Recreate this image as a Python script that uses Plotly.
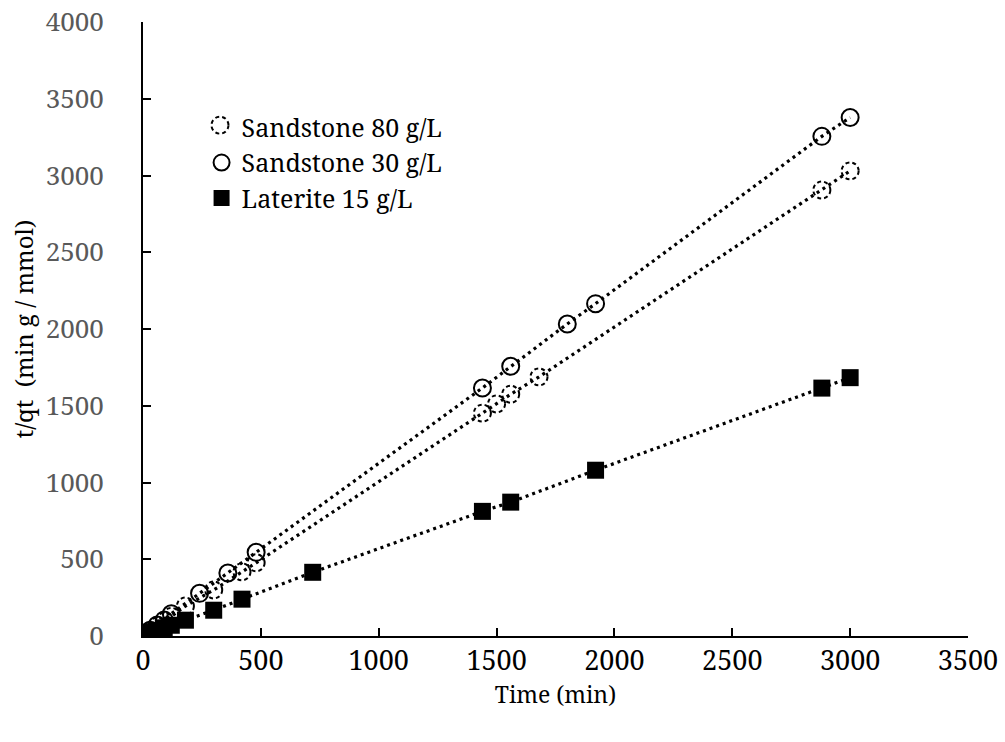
import plotly.graph_objects as go

# ---- data ----
t_s80 = [5, 10, 15, 30, 60, 90, 120, 180, 300, 420, 480, 1440, 1500, 1560, 1680, 2880, 3000]
q_s80 = [6, 12, 17, 33, 64, 95, 128, 195, 300, 418, 477, 1452, 1512, 1575, 1688, 2905, 3030]

t_s30 = [5, 10, 15, 30, 60, 90, 120, 240, 360, 480, 1440, 1560, 1800, 1920, 2880, 3000]
q_s30 = [8, 14, 20, 38, 72, 105, 145, 278, 410, 545, 1616, 1757, 2033, 2165, 3255, 3378]

t_lat = [5, 10, 15, 30, 60, 90, 120, 180, 300, 420, 720, 1440, 1560, 1920, 2880, 3000]
q_lat = [4, 7, 10, 19, 37, 53, 70, 103, 168, 240, 415, 812, 872, 1080, 1615, 1683]

names = ["Sandstone 80 g/L", "Sandstone 30 g/L", "Laterite 15 g/L"]
x_ticks = [0, 500, 1000, 1500, 2000, 2500, 3000, 3500]
y_ticks = [0, 500, 1000, 1500, 2000, 2500, 3000, 3500, 4000]

FONT = "Noto Serif"
DOT = dict(color="black", width=3.2, dash="3px,4px")

fig = go.Figure()

# dotted connecting lines
for tx, qy in [(t_s80, q_s80), (t_s30, q_s30), (t_lat, q_lat)]:
    fig.add_trace(go.Scatter(x=tx, y=qy, mode="lines", line=DOT,
                             showlegend=False, hoverinfo="skip"))

# markers
fig.add_trace(go.Scatter(x=t_s80, y=q_s80, mode="markers", name=names[0],
                         marker=dict(symbol="circle-open", size=17,
                                     color="rgba(0,0,0,0)",
                                     line=dict(color="rgba(0,0,0,0)", width=2))))
fig.add_trace(go.Scatter(x=t_s30, y=q_s30, mode="markers", name=names[1],
                         marker=dict(symbol="circle-open", size=17, color="black",
                                     line=dict(color="black", width=2))))
fig.add_trace(go.Scatter(x=t_lat, y=q_lat, mode="markers", name=names[2],
                         marker=dict(symbol="square", size=17, color="black",
                                     line=dict(color="black", width=0))))

# dashed circles for Sandstone 80 g/L (data markers + legend symbol)
R = 8.5
DASHED = dict(color="black", width=2, dash="4px,3px")
shapes = []
for tx, qy in zip(t_s80, q_s80):
    shapes.append(dict(type="circle", xref="x", yref="y",
                       xsizemode="pixel", ysizemode="pixel",
                       xanchor=tx, yanchor=qy, x0=-R, x1=R, y0=-R, y1=R,
                       line=DASHED))

LEG_X, LEG_Y = 0.071, 0.866
# legend symbol for the dashed-circle series (first legend row)
shapes.append(dict(type="circle", xref="paper", yref="paper",
                   xsizemode="pixel", ysizemode="pixel",
                   xanchor=0.0933, yanchor=0.832, x0=-R, x1=R, y0=-R, y1=R,
                   line=DASHED))

fig.update_layout(
    width=1005, height=742,
    margin=dict(l=143, r=37, t=22, b=106),
    plot_bgcolor="white", paper_bgcolor="white",
    font=dict(family=FONT, size=26, color="black"),
    showlegend=True,
    legend=dict(x=LEG_X, y=LEG_Y, xanchor="left", yanchor="top",
                bgcolor="rgba(0,0,0,0)", font=dict(family=FONT, size=25, color="black"),
                itemwidth=30, tracegroupgap=0),
    xaxis=dict(range=[0, 3500], tickvals=x_ticks, ticks="inside", ticklen=8,
               tickwidth=1.5, tickcolor="black", showline=True, linecolor="black",
               linewidth=2, showgrid=False, zeroline=False, automargin=False,
               tickfont=dict(family=FONT, size=27, color="black"),
               title=dict(text="Time (min)", font=dict(family=FONT, size=23, color="black"),
                          standoff=0)),
    yaxis=dict(range=[0, 4000], tickvals=y_ticks, ticks="inside", ticklen=8,
               tickwidth=1.5, tickcolor="black", showline=True, linecolor="black",
               linewidth=2, showgrid=False, zeroline=False, automargin=False,
               ticklabelstandoff=32,
               tickfont=dict(family=FONT, size=26, color="#595959"),
               title=dict(text="t/qt  (min g / mmol)",
                          font=dict(family=FONT, size=24, color="black"), standoff=5)),
)

fig.update_layout(shapes=shapes)
fig.write_html("out.html")
